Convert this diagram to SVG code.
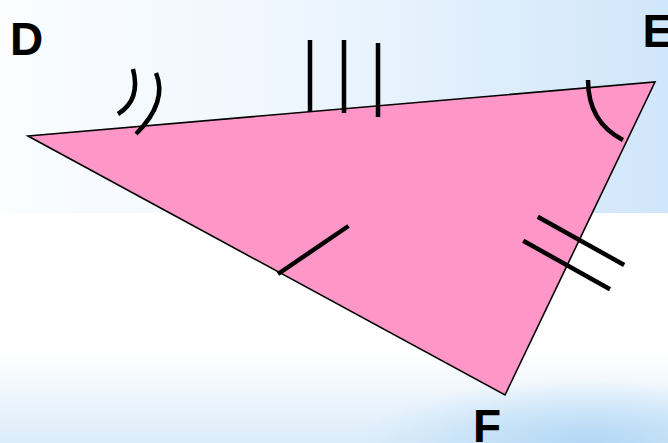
<svg xmlns="http://www.w3.org/2000/svg" width="668" height="443" viewBox="0 0 668 443">
  <defs>
    <linearGradient id="topBand" x1="0" y1="0" x2="1" y2="0">
      <stop offset="0" stop-color="#fbfdff"/>
      <stop offset="0.45" stop-color="#eef6fe"/>
      <stop offset="1" stop-color="#d0e6fa"/>
    </linearGradient>
    <linearGradient id="bottomBand" x1="0" y1="0" x2="0" y2="1">
      <stop offset="0" stop-color="#ffffff"/>
      <stop offset="1" stop-color="#dcecfa"/>
    </linearGradient>
    <radialGradient id="bottomGlow" cx="0.5" cy="0.5" r="0.5">
      <stop offset="0" stop-color="#b3d8f5" stop-opacity="1"/>
      <stop offset="1" stop-color="#b3d8f5" stop-opacity="0"/>
    </radialGradient>
    <style>
      .mark { fill: none; stroke: #000; stroke-width: 4.5; }
      .label { font-family: "Liberation Sans", Arial, sans-serif; font-weight: bold; font-size: 46px; fill: #000; }
    </style>
  </defs>

  <g id="background">
    <rect x="0" y="0" width="668" height="443" fill="#ffffff"/>
    <rect x="0" y="0" width="668" height="213" fill="url(#topBand)"/>
    <rect x="0" y="350" width="668" height="93" fill="url(#bottomBand)"/>
    <ellipse cx="590" cy="440" rx="230" ry="60" fill="url(#bottomGlow)"/>
  </g>

  <g id="triangle">
    <polygon points="28,136 655,82 505,395" fill="#ff96c8" stroke="#000" stroke-width="1.6" stroke-linejoin="miter"/>
  </g>

  <g id="marks">
    <path class="mark" d="M310,40 L310,112"/>
    <path class="mark" d="M344,40 L344,113"/>
    <path class="mark" d="M378,43 L378,117"/>
    <path class="mark" d="M133,69 Q141,100 118,114"/>
    <path class="mark" d="M156,73 Q168,102 136,134"/>
    <path class="mark" d="M588,80 Q588,122 623,140"/>
    <path class="mark" d="M278,274 L348.5,226"/>
    <path class="mark" d="M537.7,216.7 L624.2,265"/>
    <path class="mark" d="M523.2,240.7 L610,289.3"/>
  </g>

  <g id="labels">
    <text class="label" x="10" y="54.5">D</text>
    <text class="label" x="642.5" y="46.5">E</text>
    <text class="label" x="473" y="441.5">F</text>
  </g>
</svg>
